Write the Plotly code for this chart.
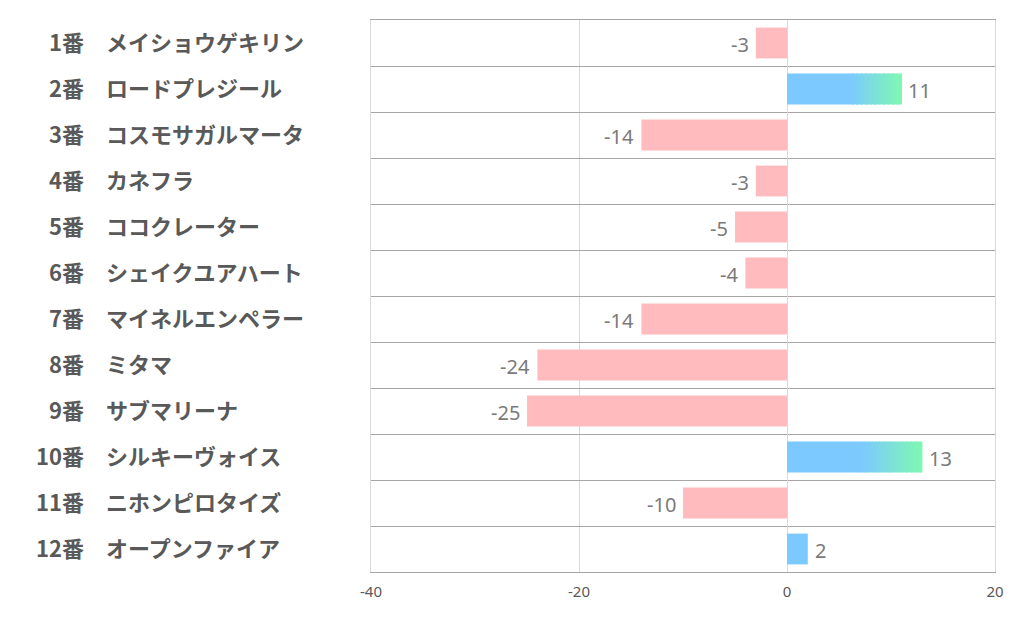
import plotly.graph_objects as go
import numpy as np

numbers = ["1番", "2番", "3番", "4番", "5番", "6番", "7番", "8番", "9番", "10番", "11番", "12番"]
names = ["メイショウゲキリン", "ロードプレジール", "コスモサガルマータ", "カネフラ", "ココクレーター",
         "シェイクユアハート", "マイネルエンペラー", "ミタマ", "サブマリーナ", "シルキーヴォイス",
         "ニホンピロタイズ", "オープンファイア"]
values = [-3, 11, -14, -3, -5, -4, -14, -24, -25, 13, -10, 2]
x_ticks = [-40, -20, 0, 20]
x_tick_text = ["-40", "-20", "0", "20"]

PINK = "#ffbbbd"
BLUE = (124, 201, 255)
GREEN = (126, 248, 178)
GRAD_MIN = 10      # bars at or above this value get the blue->green gradient
GRAD_START = 0.55  # fraction of bar length where the gradient begins
N_SEG = 40

fig = go.Figure()

# negative bars
neg_y = [n for n, v in zip(names, values) if v < 0]
neg_x = [v for v in values if v < 0]
fig.add_trace(go.Bar(y=neg_y, x=neg_x, orientation="h", marker=dict(color=PINK, line=dict(width=0)),
                     hoverinfo="skip", showlegend=False))

# positive bars (solid part)
pos_y, pos_x = [], []
for n, v in zip(names, values):
    if v > 0:
        pos_y.append(n)
        pos_x.append(v * GRAD_START if v >= GRAD_MIN else v)
fig.add_trace(go.Bar(y=pos_y, x=pos_x, orientation="h",
                     marker=dict(color="rgb(%d,%d,%d)" % BLUE, line=dict(width=0)),
                     hoverinfo="skip", showlegend=False))

# gradient part
seg_y, seg_base, seg_w, seg_c = [], [], [], []
for n, v in zip(names, values):
    if v >= GRAD_MIN:
        start = v * GRAD_START
        edges = np.linspace(start, v, N_SEG + 1)
        for i in range(N_SEG):
            t = (i + 0.5) / N_SEG
            c = tuple(int(round(BLUE[k] + (GREEN[k] - BLUE[k]) * t)) for k in range(3))
            seg_y.append(n)
            seg_base.append(edges[i])
            seg_w.append(edges[i + 1] - edges[i] + 0.02)
            seg_c.append("rgb(%d,%d,%d)" % c)
fig.add_trace(go.Bar(y=seg_y, x=seg_w, base=seg_base, orientation="h",
                     marker=dict(color=seg_c, line=dict(width=0)),
                     hoverinfo="skip", showlegend=False))

# value labels
for n, v in zip(names, values):
    fig.add_annotation(x=v, y=n, xref="x", yref="y", text=str(v), showarrow=False,
                       xanchor="left" if v > 0 else "right", xshift=5 if v > 0 else -5,
                       yshift=-1,
                       font=dict(family="Noto Sans, sans-serif", size=20, color="#7a7a7a"))

# y labels as annotations
for num, n in zip(numbers, names):
    fig.add_annotation(x=-0.4567, y=n, xref="paper", yref="y", text="<b>%s</b>" % num, showarrow=False,
                       xanchor="right", yshift=2,
                       font=dict(family="Noto Sans CJK JP", size=22, color="#595959"))
    fig.add_annotation(x=-0.4279, y=n, xref="paper", yref="y", text="<b>%s</b>" % n, showarrow=False,
                       xanchor="left", yshift=2,
                       font=dict(family="Noto Sans CJK JP", size=22, color="#595959"))

fig.update_layout(
    width=1014, height=618,
    margin=dict(l=363, r=27, t=12, b=54),
    paper_bgcolor="white", plot_bgcolor="white",
    barmode="overlay", bargap=0.33,
    font=dict(family="Noto Sans CJK JP", color="#595959"),
)
fig.update_xaxes(range=[-40, 20], tickvals=x_ticks, ticktext=x_tick_text, showgrid=True,
                 gridcolor="#d9d9d9", gridwidth=1,
                 zeroline=True, zerolinecolor="#d9d9d9", zerolinewidth=1,
                 showline=True, mirror=True, linecolor="#a6a6a6", linewidth=1,
                 ticks="outside", ticklen=6, tickcolor="rgba(0,0,0,0)",
                 tickfont=dict(family="Noto Sans, sans-serif", size=15, color="#595959"))
fig.update_yaxes(type="category", categoryorder="array", categoryarray=names, autorange="reversed",
                 tickson="boundaries", showgrid=True, gridcolor="#a6a6a6", gridwidth=1,
                 showticklabels=False, ticks="", zeroline=False,
                 showline=True, mirror=True, linecolor="#d9d9d9", linewidth=1)

fig.write_html("out.html")
